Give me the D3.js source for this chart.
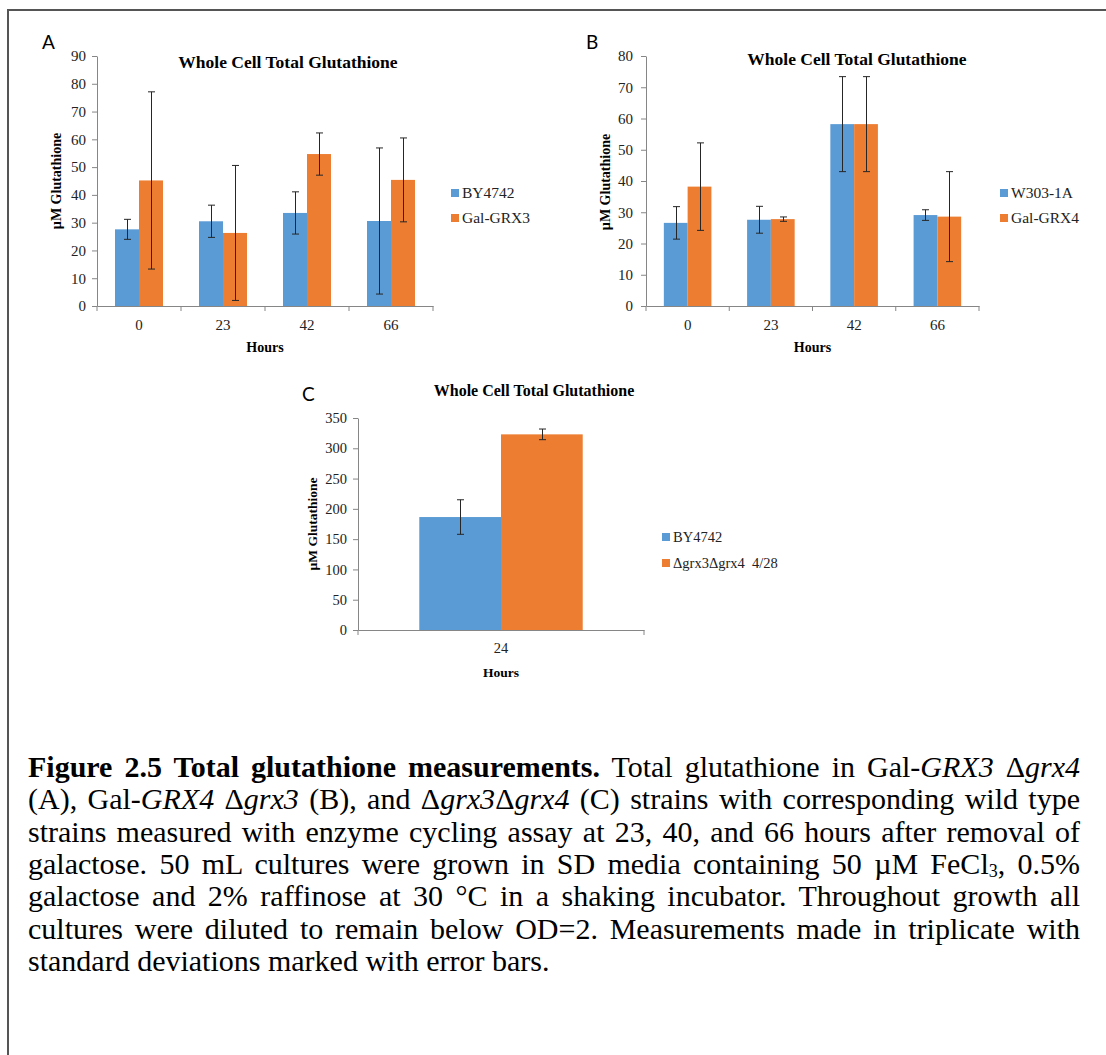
<!DOCTYPE html>
<html>
<head>
<meta charset="utf-8">
<script src="https://cdn.jsdelivr.net/npm/d3@7"></script>
<style>
  body { margin: 0; background: #fff; }
  svg { display: block; }
  text { white-space: pre; }
</style>
</head>
<body>
<svg id="fig" width="1106" height="1055"></svg>
<script>
// ---- Panel A: Gal-GRX3 strain vs. BY4742 ----
const hoursA = ["0", "23", "42", "66"];
const ticksA = [0, 10, 20, 30, 40, 50, 60, 70, 80, 90];
const meanA_BY4742 = [27.6, 30.5, 33.5, 30.6];
const errA_BY4742  = [3.6, 5.8, 7.6, 26.3];
const meanA_GalGRX3 = [45.2, 26.3, 54.7, 45.4];
const errA_GalGRX3  = [31.9, 24.3, 7.6, 15.1];

// ---- Panel B: Gal-GRX4 strain vs. W303-1A ----
const hoursB = ["0", "23", "42", "66"];
const ticksB = [0, 10, 20, 30, 40, 50, 60, 70, 80];
const meanB_W303 = [26.6, 27.6, 58.2, 29.1];
const errB_W303  = [5.2, 4.3, 15.2, 1.7];
const meanB_GalGRX4 = [38.2, 27.8, 58.2, 28.6];
const errB_GalGRX4  = [14.0, 0.7, 15.2, 14.4];

// ---- Panel C: double deletion vs. BY4742 ----
const hoursC = ["24"];
const ticksC = [0, 50, 100, 150, 200, 250, 300, 350];
const meanC_BY4742 = [186.5];
const errC_BY4742  = [28.5];
const meanC_dgrx = [323];
const errC_dgrx  = [8.8];

const chartTitle = "Whole Cell Total Glutathione";
const yTitle = "\u00b5M Glutathione";
const xTitle = "Hours";

const BLUE = "#5b9bd5", ORANGE = "#ed7d31", AXIS = "#868686";
const SERIF = "'Liberation Serif', 'Times New Roman', serif";
const SANS = "Lato, 'Liberation Sans', sans-serif";

const svg = d3.select("#fig");

// outer frame (top and left edges)
svg.append("path")
  .attr("d", "M8,1055 V10 H1106")
  .attr("fill", "none").attr("stroke", "#555").attr("stroke-width", 2);

function drawPanel(p) {
  const g = svg.append("g");
  const x = d3.scaleBand().domain(p.categories).range([p.left, p.right]);
  const xs = d3.scaleBand().domain(p.series.map(s => s.name))
    .range([0, x.bandwidth()]).paddingOuter(0.75);
  const y = d3.scaleLinear().domain([0, d3.max(p.ticks)]).range([p.bottom, p.top]);

  // y axis
  const yAxis = g.append("g")
    .attr("transform", `translate(${p.left},0)`)
    .call(d3.axisLeft(y).tickValues(p.ticks).tickSize(5).tickSizeOuter(0).tickPadding(p.tickPad));
  yAxis.select(".domain").attr("stroke", AXIS);
  yAxis.selectAll(".tick line").attr("stroke", AXIS);
  yAxis.selectAll(".tick text").attr("font-family", SERIF).attr("font-size", p.tickFont).attr("fill", "#222");

  // x axis: baseline, category boundary ticks, labels
  const xAxis = g.append("g")
    .attr("transform", `translate(0,${p.bottom})`)
    .call(d3.axisBottom(x).tickSize(0).tickPadding(p.xPad));
  xAxis.select(".domain").attr("stroke", AXIS);
  xAxis.selectAll(".tick text").attr("font-family", SERIF).attr("font-size", p.tickFont).attr("fill", "#222");
  const bounds = p.categories.map(c => x(c)).concat([x(p.categories[p.categories.length - 1]) + x.bandwidth()]);
  xAxis.selectAll("line.bound").data(bounds).join("line")
    .attr("class", "bound")
    .attr("x1", d => d).attr("x2", d => d)
    .attr("y1", 0).attr("y2", 5)
    .attr("stroke", AXIS);

  // bars
  p.series.forEach(s => {
    const rows = p.categories.map((c, i) => ({ c, v: s.mean[i], e: s.err[i] }));
    g.append("g").selectAll("rect").data(rows).join("rect")
      .attr("x", d => x(d.c) + xs(s.name))
      .attr("width", xs.bandwidth())
      .attr("y", d => y(d.v))
      .attr("height", d => y(0) - y(d.v))
      .attr("fill", s.color);
  });

  // error bars
  p.series.forEach(s => {
    const rows = p.categories.map((c, i) => ({ c, v: s.mean[i], e: s.err[i] }));
    const eg = g.append("g").attr("stroke", "#262626").attr("stroke-width", 1);
    rows.forEach(d => {
      const cx = Math.round(x(d.c) + xs(s.name) + xs.bandwidth() / 2) + 0.5;
      const yHi = y(d.v + d.e), yLo = y(d.v - d.e);
      eg.append("line").attr("x1", cx).attr("x2", cx).attr("y1", yHi).attr("y2", yLo);
      eg.append("line").attr("x1", cx - 3.5).attr("x2", cx + 3.5).attr("y1", yHi).attr("y2", yHi);
      eg.append("line").attr("x1", cx - 3.5).attr("x2", cx + 3.5).attr("y1", yLo).attr("y2", yLo);
    });
  });

  // chart title
  g.append("text")
    .attr("x", p.titleX).attr("y", p.titleY)
    .attr("text-anchor", "middle")
    .attr("font-family", SERIF).attr("font-weight", "bold").attr("font-size", p.titleFont)
    .text(chartTitle);

  // axis titles
  g.append("text")
    .attr("transform", `translate(${p.yTitleX},${p.yTitleY}) rotate(-90)`)
    .attr("text-anchor", "middle")
    .attr("font-family", SERIF).attr("font-weight", "bold").attr("font-size", p.axisFont)
    .text(yTitle);
  g.append("text")
    .attr("x", (p.left + p.right) / 2).attr("y", p.xTitleY)
    .attr("text-anchor", "middle")
    .attr("font-family", SERIF).attr("font-weight", "bold").attr("font-size", p.axisFont)
    .text(xTitle);

  // legend
  const lg = g.append("g");
  p.series.forEach((s, i) => {
    const cy = p.legendY + i * p.legendGap;
    lg.append("rect").attr("x", p.legendX).attr("y", cy - 4).attr("width", 8).attr("height", 8).attr("fill", s.color);
    lg.append("text").attr("x", p.legendX + 11).attr("y", cy + 5)
      .attr("font-family", SERIF).attr("font-size", p.legendFont).attr("fill", "#222")
      .text(s.name);
  });

  // panel letter
  g.append("text")
    .attr("x", p.letterX).attr("y", p.letterY)
    .attr("font-family", SANS).attr("font-size", 19)
    .text(p.letter);
}

drawPanel({
  letter: "A", letterX: 42, letterY: 49,
  categories: hoursA, ticks: ticksA,
  left: 97, right: 433, top: 56, bottom: 306,
  series: [
    { name: "BY4742", mean: meanA_BY4742, err: errA_BY4742, color: BLUE },
    { name: "Gal-GRX3", mean: meanA_GalGRX3, err: errA_GalGRX3, color: ORANGE }
  ],
  tickFont: 15, tickPad: 6, xPad: 13, titleFont: 17.5, axisFont: 14, legendFont: 15.5,
  titleX: 288, titleY: 68, yTitleX: 61, yTitleY: 181, xTitleY: 352,
  legendX: 451, legendY: 193, legendGap: 25
});

drawPanel({
  letter: "B", letterX: 586, letterY: 49,
  categories: hoursB, ticks: ticksB,
  left: 646, right: 979, top: 56, bottom: 306,
  series: [
    { name: "W303-1A", mean: meanB_W303, err: errB_W303, color: BLUE },
    { name: "Gal-GRX4", mean: meanB_GalGRX4, err: errB_GalGRX4, color: ORANGE }
  ],
  tickFont: 15, tickPad: 8, xPad: 13, titleFont: 17.5, axisFont: 14, legendFont: 15.5,
  titleX: 857, titleY: 65, yTitleX: 610, yTitleY: 182, xTitleY: 352,
  legendX: 1000, legendY: 193, legendGap: 25
});

drawPanel({
  letter: "C", letterX: 302, letterY: 401,
  categories: hoursC, ticks: ticksC,
  left: 358, right: 644, top: 418, bottom: 630,
  series: [
    { name: "BY4742", mean: meanC_BY4742, err: errC_BY4742, color: BLUE },
    { name: "\u0394grx3\u0394grx4  4/28", mean: meanC_dgrx, err: errC_dgrx, color: ORANGE }
  ],
  tickFont: 14.5, tickPad: 6, xPad: 13, titleFont: 16, axisFont: 13.5, legendFont: 14.5,
  titleX: 534, titleY: 396, yTitleX: 317, yTitleY: 524, xTitleY: 677,
  legendX: 662, legendY: 537, legendGap: 26
});

// ---- caption, justified to the frame width ----
const captionLines = [
  [{ t: "Figure 2.5 Total glutathione measurements.", b: 1 }, { t: " Total glutathione in Gal-" }, { t: "GRX3", i: 1 }, { t: " \u0394" }, { t: "grx4", i: 1 }],
  [{ t: "(A), Gal-" }, { t: "GRX4", i: 1 }, { t: " \u0394" }, { t: "grx3", i: 1 }, { t: " (B), and \u0394" }, { t: "grx3", i: 1 }, { t: "\u0394" }, { t: "grx4", i: 1 }, { t: " (C) strains with corresponding wild type" }],
  [{ t: "strains measured with enzyme cycling assay at 23, 40, and 66 hours after removal of" }],
  [{ t: "galactose. 50 mL cultures were grown in SD media containing 50 \u00b5M FeCl" }, { t: "3", sub: 1 }, { t: ", 0.5%" }],
  [{ t: "galactose and 2% raffinose at 30 \u00b0C in a shaking incubator. Throughout growth all" }],
  [{ t: "cultures were diluted to remain below OD=2. Measurements made in triplicate with" }],
  [{ t: "standard deviations marked with error bars." }]
];

const capLeft = 28, capRight = 1080, capTop = 777, capStep = 32.3, capFont = 30;
captionLines.forEach((parts, li) => {
  const t = svg.append("text")
    .attr("x", capLeft).attr("y", capTop + li * capStep)
    .attr("font-family", SERIF).attr("font-size", capFont).attr("fill", "#000");
  parts.forEach((p, k) => {
    const ts = t.append("tspan").text(p.t);
    if (p.b) ts.attr("font-weight", "bold");
    if (p.i) ts.attr("font-style", "italic");
    if (p.sub) ts.attr("font-size", capFont * 0.6).attr("dy", 3);
    else if (k > 0 && parts[k - 1].sub) ts.attr("dy", -3);
  });
  if (li < captionLines.length - 1) {
    const natural = t.node().getComputedTextLength();
    const spaces = parts.map(p => p.t).join("").split(" ").length - 1;
    t.attr("word-spacing", (capRight - capLeft - natural) / spaces);
  }
});
</script>
</body>
</html>
